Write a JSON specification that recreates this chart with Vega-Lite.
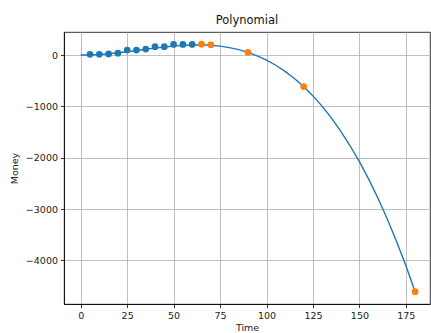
{
  "$schema": "https://vega.github.io/schema/vega-lite/v6.json",
  "width": 366,
  "height": 272,
  "autosize": {"type": "none"},
  "padding": {"left": 64, "top": 32, "right": 1, "bottom": 29},
  "background": "white",
  "config": {
    "font": "DejaVu Sans",
    "view": {"stroke": "black", "strokeWidth": 0.8},
    "axis": {
      "grid": true,
      "gridColor": "#b0b0b0",
      "gridWidth": 0.8,
      "domainColor": "black",
      "domainWidth": 0.8,
      "tickColor": "black",
      "tickWidth": 0.8,
      "tickSize": 3.5,
      "labelFont": "DejaVu Sans",
      "labelFontSize": 9.5,
      "labelColor": "#222",
      "labelPadding": 3,
      "titleFont": "DejaVu Sans",
      "titleFontSize": 9.5,
      "titleFontWeight": "normal",
      "titleColor": "#222"
    },
    "title": {"font": "DejaVu Sans", "fontSize": 11.5, "fontWeight": "normal", "color": "#111", "offset": 6}
  },
  "title": {"text": "Polynomial", "anchor": "middle"},
  "datasets": {
    "curve": [
      {"t": 0, "m": 0}, {"t": 5, "m": 1.6}, {"t": 10, "m": 10.1}, {"t": 15, "m": 24.2},
      {"t": 20, "m": 42.6}, {"t": 25, "m": 64.1}, {"t": 30, "m": 87.5}, {"t": 35, "m": 111.4},
      {"t": 40, "m": 134.6}, {"t": 45, "m": 155.9}, {"t": 50, "m": 174.0}, {"t": 55, "m": 187.6},
      {"t": 60, "m": 195.5}, {"t": 65, "m": 196.4}, {"t": 70, "m": 189.0}, {"t": 75, "m": 172.2},
      {"t": 80, "m": 144.6}, {"t": 85, "m": 104.9}, {"t": 90, "m": 52.0}, {"t": 95, "m": -15.4},
      {"t": 100, "m": -98.7}, {"t": 105, "m": -199.1}, {"t": 110, "m": -317.7}, {"t": 115, "m": -456.0},
      {"t": 120, "m": -614.9}, {"t": 125, "m": -796.2}, {"t": 130, "m": -1000.7}, {"t": 135, "m": -1229.8},
      {"t": 140, "m": -1484.8}, {"t": 145, "m": -1767.0}, {"t": 150, "m": -2077.6}, {"t": 155, "m": -2417.8},
      {"t": 160, "m": -2789.0}, {"t": 165, "m": -3192.2}, {"t": 170, "m": -3629.0}, {"t": 175, "m": -4100.4},
      {"t": 180, "m": -4607.8}
    ],
    "points": [
      {"t": 5, "m": 13, "kind": "observed"}, {"t": 10, "m": 15, "kind": "observed"},
      {"t": 15, "m": 22, "kind": "observed"}, {"t": 20, "m": 35, "kind": "observed"},
      {"t": 25, "m": 97, "kind": "observed"}, {"t": 30, "m": 97, "kind": "observed"},
      {"t": 35, "m": 116, "kind": "observed"}, {"t": 40, "m": 162, "kind": "observed"},
      {"t": 45, "m": 162, "kind": "observed"}, {"t": 50, "m": 207, "kind": "observed"},
      {"t": 55, "m": 207, "kind": "observed"}, {"t": 60, "m": 207, "kind": "observed"},
      {"t": 65, "m": 210, "kind": "predicted"}, {"t": 70, "m": 200, "kind": "predicted"},
      {"t": 90, "m": 52, "kind": "predicted"}, {"t": 120, "m": -615, "kind": "predicted"},
      {"t": 180, "m": -4608, "kind": "predicted"}
    ]
  },
  "layer": [
    {
      "data": {"name": "curve"},
      "mark": {"type": "line", "color": "#1f77b4", "strokeWidth": 1.4, "clip": true},
      "encoding": {
        "x": {"field": "t", "type": "quantitative", "scale": {"domain": [-9, 188], "nice": false, "zero": false},
              "axis": {"title": "Time", "values": [0, 25, 50, 75, 100, 125, 150, 175], "titlePadding": 2}},
        "y": {"field": "m", "type": "quantitative", "scale": {"domain": [-4848, 448], "nice": false, "zero": false},
              "axis": {"title": "Money", "values": [0, -1000, -2000, -3000, -4000], "format": "d", "titlePadding": 6}}
      }
    },
    {
      "data": {"name": "points"},
      "mark": {"type": "circle", "size": 45, "opacity": 1, "clip": true},
      "encoding": {
        "x": {"field": "t", "type": "quantitative"},
        "y": {"field": "m", "type": "quantitative"},
        "color": {"field": "kind", "type": "nominal",
                  "scale": {"domain": ["observed", "predicted"], "range": ["#1f77b4", "#ff7f0e"]},
                  "legend": null}
      }
    }
  ]
}
